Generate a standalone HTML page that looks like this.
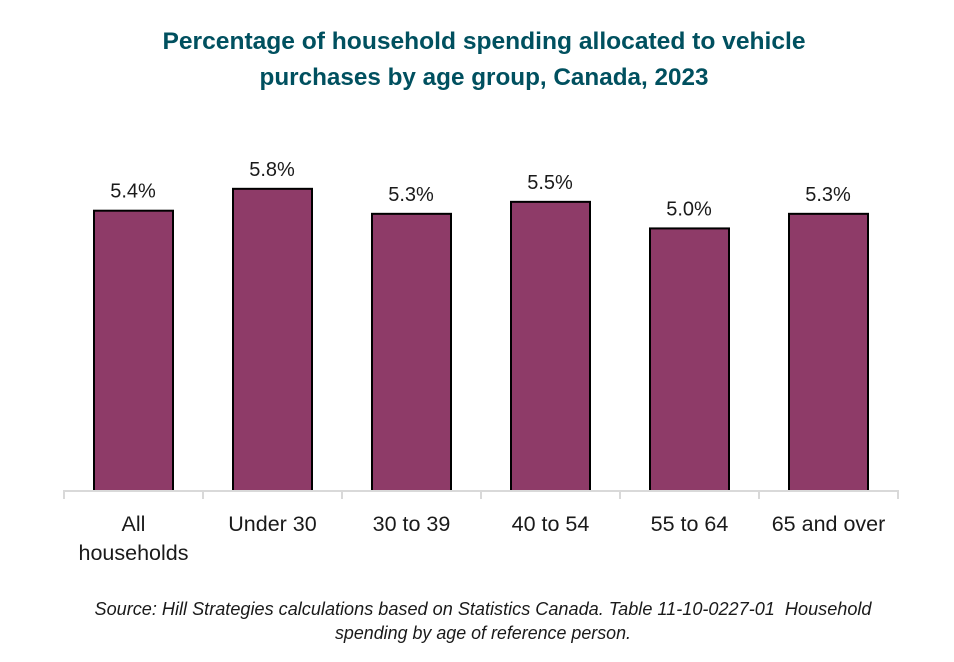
<!DOCTYPE html>
<html lang="en">
<head>
<meta charset="utf-8">
<title>Vehicle purchases by age group</title>
<style>
html,body{margin:0;padding:0;background:#fff;}
svg{display:block;font-family:"Liberation Sans",sans-serif;}
</style>
</head>
<body>
<svg id="chart" width="954" height="662" viewBox="0 0 954 662" xmlns="http://www.w3.org/2000/svg">
  <rect x="0" y="0" width="954" height="662" fill="#ffffff"/>
  <g fill="#00505f" font-size="24" font-weight="bold" text-anchor="middle">
    <text x="484" y="49" textLength="643" lengthAdjust="spacingAndGlyphs">Percentage of household spending allocated to vehicle</text>
    <text x="484" y="85" textLength="449" lengthAdjust="spacingAndGlyphs">purchases by age group, Canada, 2023</text>
  </g>
  <g id="bars"></g>
  <g id="axis"></g>
  <g fill="#1a1a1a" font-size="18" font-style="italic" text-anchor="middle">
    <text x="483" y="615" textLength="777" lengthAdjust="spacingAndGlyphs">Source: Hill Strategies calculations based on Statistics Canada. Table 11-10-0227-01 &#160;Household</text>
    <text x="483" y="639" textLength="296" lengthAdjust="spacingAndGlyphs">spending by age of reference person.</text>
  </g>
</svg>
<script>
const categories = [["All", "households"], ["Under 30"], ["30 to 39"], ["40 to 54"], ["55 to 64"], ["65 and over"]];
const values = [5.38, 5.80, 5.32, 5.55, 5.04, 5.32];
const printedValues = ["5.4%", "5.8%", "5.3%", "5.5%", "5.0%", "5.3%"];

const NS = "http://www.w3.org/2000/svg";
const baseY = 491, axisLeft = 64, axisRight = 898, pxPerUnit = 52.1, barWidth = 79;
const step = (axisRight - axisLeft) / categories.length;
const xBand = i => axisLeft + step * i;
const xCenter = i => xBand(i) + step / 2;
const yScale = v => baseY - v * pxPerUnit;

function make(tag, attrs, parent, text) {
  const el = document.createElementNS(NS, tag);
  for (const k in attrs) el.setAttribute(k, attrs[k]);
  if (text !== undefined) el.textContent = text;
  parent.appendChild(el);
  return el;
}

const barsG = document.getElementById("bars");
const axisG = document.getElementById("axis");

values.forEach((v, i) => {
  const top = yScale(v);
  const bar = make("rect", {
    x: xCenter(i) - barWidth / 2, y: top, width: barWidth, height: baseY - top,
    fill: "#8e3b68", stroke: "#000000", "stroke-width": 2
  }, barsG);
  
  
  const label = make("text", {
    x: xCenter(i) - 0.5, y: top - 13, "text-anchor": "middle", "font-size": 20, fill: "#1a1a1a"
  }, barsG, printedValues[i]);
  
  
});

const axisLine = make("line", {
  x1: axisLeft - 1, x2: axisRight + 1, y1: baseY, y2: baseY, stroke: "#d9d9d9", "stroke-width": 2
}, axisG);



for (let i = 0; i <= categories.length; i++) {
  const tick = make("line", {
    x1: xBand(i), x2: xBand(i), y1: baseY, y2: baseY + 8, stroke: "#d9d9d9", "stroke-width": 2
  }, axisG);
  
  
}

categories.forEach((lines, i) => {
  lines.forEach((line, j) => {
    const t = make("text", {
      x: xCenter(i), y: 531 + j * 29, "text-anchor": "middle", "font-size": 21.5, fill: "#1a1a1a"
    }, axisG, line);
    
    
  });
});
</script>
</body>
</html>
